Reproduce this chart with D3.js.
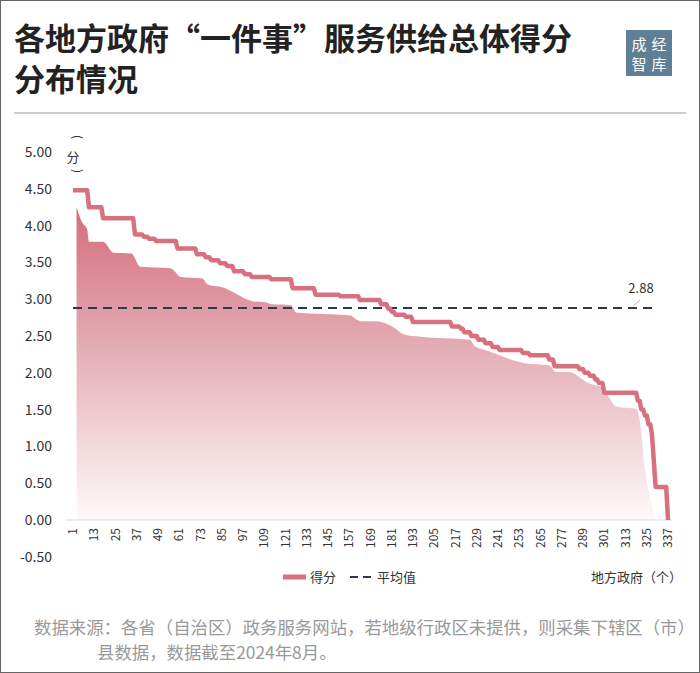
<!DOCTYPE html>
<html><head><meta charset="utf-8">
<script src="https://cdn.jsdelivr.net/npm/d3@7"></script>
<style>body{margin:0;background:#fff}svg{display:block;font-family:"Noto Sans CJK SC","Noto Sans",sans-serif}</style>
</head><body><svg id="c" width="700" height="673"></svg>
<script>
// Score runs: [first index, score] (sorted descending, 337 governments)
const runStarts = [1,10,18,36,41,44,48,60,71,76,79,84,88,92,98,102,113,125,138,152,163,175,179,181,183,189,193,215,220,222,226,230,234,238,242,255,259,270,273,287,290,293,296,298,301,320,322,324,326,328,329,330,336,337];
const runValues = [4.48,4.25,4.10,3.88,3.85,3.82,3.79,3.69,3.61,3.57,3.53,3.49,3.45,3.38,3.34,3.30,3.27,3.15,3.06,3.04,2.99,2.93,2.87,2.83,2.79,2.76,2.69,2.63,2.60,2.55,2.50,2.45,2.40,2.35,2.31,2.27,2.24,2.18,2.09,2.05,2.00,1.96,1.91,1.86,1.73,1.62,1.50,1.42,1.30,1.15,0.80,0.45,0.45,0.00];
// Shaded backdrop knots: [index, value]
const areaIdx = [3,6,9,10,18,24,34,39,56,62,74,77,87,91,103,110,113,124,127,142,158,160,164,172,182,188,197,211,225,228,235,256,270,274,281,292,300,308,319,321,324,327,329,331];
const areaVal = [4.25,4.05,3.95,3.78,3.78,3.63,3.62,3.44,3.42,3.30,3.28,3.20,3.15,3.10,2.97,2.96,2.93,2.92,2.82,2.80,2.78,2.74,2.70,2.70,2.62,2.52,2.49,2.47,2.45,2.36,2.30,2.13,2.10,2.01,2.01,1.86,1.79,1.54,1.51,1.36,0.68,0.30,0.10,0.00];
const meanValue = 2.88;
const yTicks = [-0.5,0,0.5,1,1.5,2,2.5,3,3.5,4,4.5,5];
const xTicks = d3.range(1,338,12);

const values = [];
for (let i=0;i<runStarts.length;i++){
  const end = i+1<runStarts.length ? runStarts[i+1] : 338;
  for (let k=runStarts[i];k<end;k++) values.push({i:k,v:runValues[i]});
}
const svg = d3.select("#c");
const x = d3.scaleLinear().domain([1,337]).range([73,668]);
const y = d3.scaleLinear().domain([0,5]).range([520,152]);

svg.append("rect").attr("x",0.5).attr("y",0.5).attr("width",699).attr("height",672).attr("fill","none").attr("stroke","#666");
svg.append("text").attr("x",14).attr("y",50).attr("font-size",31).attr("font-weight",700).attr("fill","#222").text("各地方政府“一件事”服务供给总体得分");
svg.append("text").attr("x",14).attr("y",91).attr("font-size",31).attr("font-weight",700).attr("fill","#222").text("分布情况");
svg.append("line").attr("x1",14).attr("x2",686).attr("y1",113).attr("y2",113).attr("stroke","#999");
// logo
const lg = svg.append("g").attr("transform","translate(626,30)");
lg.append("rect").attr("width",46).attr("height",46).attr("fill","#5f7f96");
[["成",13,20],["经",33,20],["智",13,40],["库",33,40]].forEach(d=>lg.append("text").attr("x",d[1]).attr("y",d[2]).attr("text-anchor","middle").attr("font-size",15).attr("fill","#fff").text(d[0]));

const defs = svg.append("defs");
const gr = defs.append("linearGradient").attr("id","g").attr("x1",0).attr("x2",0).attr("y1",0).attr("y2",1);
gr.append("stop").attr("offset","0%").attr("stop-color","#d46c7b");
gr.append("stop").attr("offset","50%").attr("stop-color","#e6b4bb");
gr.append("stop").attr("offset","100%").attr("stop-color","#fefafa");
const aData = areaIdx.map((d,k)=>({i:d,v:areaVal[k]}));
svg.append("path").datum(aData).attr("fill","url(#g)")
  .attr("d",d3.area().x(d=>x(d.i)).y0(y(0)).y1(d=>y(d.v)).curve(d3.curveMonotoneX));

// axes
svg.append("line").attr("x1",66).attr("x2",672).attr("y1",y(0)).attr("y2",y(0)).attr("stroke","#ddd");
svg.selectAll(".yt").data(yTicks).join("text").attr("x",52).attr("y",d=>y(d)+5).attr("text-anchor","end")
  .attr("font-size",14).attr("fill","#333").text(d=>d.toFixed(2));
svg.append("text").attr("transform","translate(73,137) rotate(90)").attr("text-anchor","middle").attr("font-size",12).attr("fill","#333").text("(");
svg.append("text").attr("x",73).attr("y",162).attr("text-anchor","middle").attr("font-size",13).attr("fill","#333").text("分");
svg.append("text").attr("transform","translate(73,171) rotate(90)").attr("text-anchor","middle").attr("font-size",12).attr("fill","#333").text(")");
svg.selectAll(".xt").data(xTicks).join("text")
  .attr("transform",d=>`translate(${x(d)+4},528) rotate(-90)`).attr("text-anchor","end")
  .attr("font-size",12).attr("fill","#333").text(d=>d);

// mean
svg.append("line").attr("x1",x(1)).attr("x2",655).attr("y1",y(meanValue)).attr("y2",y(meanValue))
  .attr("stroke","#2d3a4d").attr("stroke-width",2).attr("stroke-dasharray","9,6");
svg.append("text").attr("x",641).attr("y",y(meanValue)-15).attr("text-anchor","middle").attr("font-size",13).attr("fill","#333").text(meanValue.toFixed(2));
svg.append("line").attr("x1",633).attr("y1",y(meanValue)-2).attr("x2",640).attr("y2",y(meanValue)-8).attr("stroke","#bbb");

// line
svg.append("path").datum(values).attr("fill","none").attr("stroke","#d7707f").attr("stroke-width",4.5).attr("stroke-linejoin","round")
  .attr("d",d3.line().x(d=>x(d.i)).y(d=>y(d.v)));

// legend
svg.append("line").attr("x1",283).attr("x2",306).attr("y1",577).attr("y2",577).attr("stroke","#d7707f").attr("stroke-width",5);
svg.append("text").attr("x",310).attr("y",582).attr("font-size",13).attr("fill","#333").text("得分");
svg.append("line").attr("x1",350).attr("x2",373).attr("y1",577).attr("y2",577).attr("stroke","#2d3a4d").attr("stroke-width",2).attr("stroke-dasharray","8,5");
svg.append("text").attr("x",377).attr("y",582).attr("font-size",13).attr("fill","#333").text("平均值");
svg.append("text").attr("x",682).attr("y",582).attr("text-anchor","end").attr("font-size",13).attr("fill","#333").text("地方政府（个）");

svg.append("text").attr("x",34).attr("y",634).attr("font-size",17.4).attr("fill","#999").text("数据来源：各省（自治区）政务服务网站，若地级行政区未提供，则采集下辖区（市）");
svg.append("text").attr("x",97).attr("y",659).attr("font-size",17.4).attr("fill","#999").text("县数据，数据截至2024年8月。");
</script></body></html>
